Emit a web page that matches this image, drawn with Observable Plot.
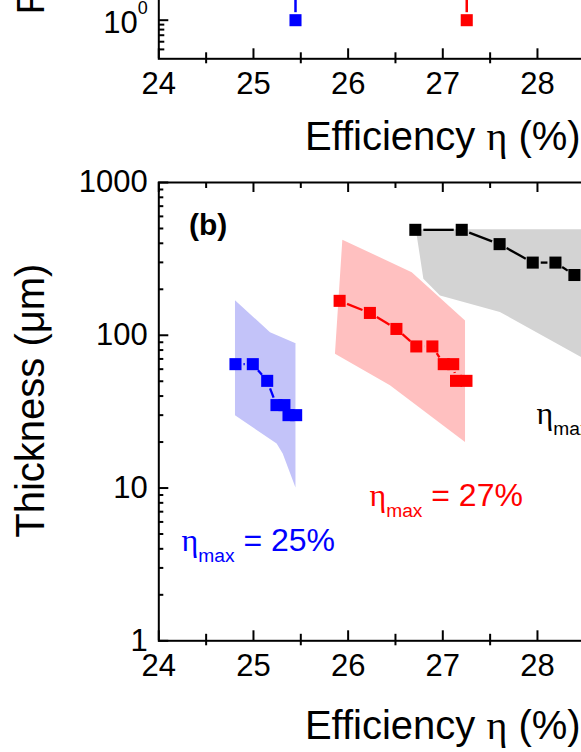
<!DOCTYPE html>
<html><head><meta charset="utf-8">
<script src="https://cdn.jsdelivr.net/npm/d3@7"></script>
<script src="https://cdn.jsdelivr.net/npm/@observablehq/plot@0.6"></script>
<style>
html,body{margin:0;padding:0;background:#fff;}
body{width:581px;height:752px;overflow:hidden;position:relative;}
#top,#bottom{position:absolute;left:0;}
#top{top:-210px;}
#bottom{top:161.7px;}
</style></head><body>
<div id="top"></div><div id="bottom"></div>
<script>
// ---------- data ----------
const xMajor = [24, 25, 26, 27, 28, 29, 30];
const xMinor = [24.5, 25.5, 26.5, 27.5, 28.5, 29.5];
const xTickLabels = ["24", "25", "26", "27", "28", "29", "30"];

// panel (a), visible bottom part only
const topYMajor = [1, 10, 100];
const topYMinor = [0.5, 0.6, 0.7, 0.8, 0.9, 2, 3, 4, 5, 6, 7, 8, 9, 20, 30, 40, 50, 60, 70, 80, 90];
const topYLabelTicks = [1];
const topYLabels = ["10^{0}"];
const topX = [25.444, 27.253];
const topY = [1, 1];
const topYUp = [10, 10];
const topColors = ["#0000ff", "#ff0000"];

// panel (b)
const yMajor = [1, 10, 100, 1000];
const yTickLabels = ["1", "10", "100", "1000"];
const yMinor = [2, 3, 4, 5, 6, 7, 8, 9, 20, 30, 40, 50, 60, 70, 80, 90, 200, 300, 400, 500, 600, 700, 800, 900];

const blueX = [24.81, 24.993, 25.145, 25.243, 25.327, 25.37, 25.451];
const blueY = [64.7, 64.7, 50.3, 34.9, 34.9, 30, 30];
const redX = [25.91, 26.23, 26.51, 26.72, 26.89, 27.01, 27.11, 27.14, 27.25];
const redY = [168, 140, 110, 84.5, 84.5, 64.7, 64.7, 50.3, 50.3];
const blackX = [26.71, 27.20, 27.60, 27.95, 28.19, 28.39];
const blackY = [490, 490, 395, 299, 299, 248];

const blueBandTopX = [24.81, 25.18, 25.444, 25.449];
const blueBandTopY = [168, 104, 88.3, 88.3];
const blueBandBotX = [24.81, 25.25, 25.314, 25.449];
const blueBandBotY = [29.7, 19.4, 16.7, 10];

const redBandTopX = [25.944, 26.677, 27.24];
const redBandTopY = [419, 257, 124];
const redBandBotX = [25.866, 26.447, 27.24];
const redBandBotY = [75.2, 46.7, 19.9];

const grayBandTopX = [26.72, 26.976, 27.608, 28.465, 29.2];
const grayBandTopY = [490, 490, 490, 490, 490];
const grayBandBotX = [26.80, 26.976, 27.608, 28.465, 29.2];
const grayBandBotY = [233, 181, 141, 71.5, 45];

const labelText = ["η_{max} = 25%", "η_{max} = 27%", "η_{max} = 29%"];
const labelX = [24.24, 26.225, 27.99];
const labelY = [3.88, 7.65, 26.2];
const labelColor = ["#0000ff", "#ff0000", "#000000"];

// ---------- helpers ----------
const SANS = "'Liberation Sans', Arial, sans-serif";
const SERIF = "'Liberation Serif', 'Times New Roman', serif";
const TICKFS = 31;
const pts = (xs, ys) => xs.map((x, i) => ({x, y: ys[i]}));
const segs = (xs, ys) => xs.slice(1).map((x, i) => ({x1: xs[i], y1: ys[i], x2: x, y2: ys[i + 1]}));
const band = (tx, ty, bx, by) => tx.map((x, i) => ({tx: x, ty: ty[i], bx: bx[i], by: by[i]}));
const svgStyle = `font-family: ${SANS}; font-size: 31px; background: transparent; max-width: none; overflow: visible;`;

function richify(svg) {
  d3.select(svg).selectAll("text").each(function () {
    const s = this.textContent;
    if (!/η|_\{|\^\{/.test(s)) return;
    const fs = parseFloat(getComputedStyle(this).fontSize);
    const parts = s.split(/(η|_\{[^}]*\}|\^\{[^}]*\})/).filter(p => p !== "");
    this.textContent = "";
    let shift = 0;
    for (const p of parts) {
      const t = d3.select(this).append("tspan");
      let ns = 0;
      if (p === "η") t.attr("font-family", SERIF).text("η");
      else if (p.startsWith("_{")) { t.attr("font-size", fs * 0.6).text(p.slice(2, -1)); ns = fs * 0.34; }
      else if (p.startsWith("^{")) { t.attr("font-size", fs * 0.58).text(p.slice(2, -1)); ns = -fs * 0.6; }
      else t.text(p);
      if (ns !== shift) t.attr("dy", ns - shift);
      shift = ns;
    }
  });
}

const W = 740, ML = 158.3, MR = 13.7, FW = W - ML - MR;
const sq = 6.8; // square symbol radius

const xLabelMark = () => Plot.text(xMajor, {x: d => d, text: d => xTickLabels[xMajor.indexOf(d)], frameAnchor: "bottom", dy: 13, lineAnchor: "top", fontSize: TICKFS});

// ---------- top panel (a) ----------
const topFH = 258.3, topMT = 10, topMB = 100;
const topSegsData = topX.map((x, i) => ({x1: x, y1: topY[i], x2: x, y2: topYUp[i], c: topColors[i]}));
const topPlot = Plot.plot({
  width: W, height: topMT + topFH + topMB,
  marginLeft: ML, marginRight: MR, marginTop: topMT, marginBottom: topMB,
  style: svgStyle,
  x: {domain: [24, 30], axis: null},
  y: {type: "log", domain: [0.4, 184], axis: null},
  marks: [
    ...topSegsData.map(d => Plot.arrow([d], {x1: "x1", y1: "y1", x2: "x2", y2: "y2", stroke: d.c, strokeWidth: 2.5, headLength: 0, insetStart: 8, strokeLinecap: "butt"})),
    ...topX.map((x, i) => Plot.dot([{x, y: topY[i]}], {x: "x", y: "y", symbol: "square", r: sq, fill: topColors[i], stroke: null})),
    Plot.tickX(xMajor, {x: d => d, insetTop: topFH - 10, strokeWidth: 2}),
    Plot.tickX(xMinor, {x: d => d, insetTop: topFH - 6, insetBottom: -5, strokeWidth: 2}),
    Plot.tickY(topYMajor, {y: d => d, insetRight: FW - 10, strokeWidth: 2}),
    Plot.tickY(topYMinor, {y: d => d, insetRight: FW - 6, strokeWidth: 2}),
    Plot.frame({stroke: "black", strokeWidth: 2}),
    xLabelMark(),
    Plot.text(topYLabelTicks, {y: d => d, text: (d, i) => topYLabels[i], frameAnchor: "left", dx: -11, dy: 2.5, textAnchor: "end", lineAnchor: "middle", fontSize: TICKFS}),
    Plot.text(["Efficiency η (%)"], {frameAnchor: "bottom", dy: 91.7, lineAnchor: "bottom", fontSize: 40}),
    Plot.text(["F"], {frameAnchor: "bottom-left", dx: -115, dy: -44.3, rotate: -90, textAnchor: "start", lineAnchor: "bottom", fontSize: 39})
  ]
});
document.getElementById("top").appendChild(topPlot);
richify(topPlot);

// ---------- bottom panel (b) ----------
const FH = 458.3, MT = 20, MB = 112;
const series = [
  {xs: blackX, ys: blackY, c: "#000000"},
  {xs: redX, ys: redY, c: "#ff0000"},
  {xs: blueX, ys: blueY, c: "#0000ff"}
];
const bands = [
  {d: band(grayBandTopX, grayBandTopY, grayBandBotX, grayBandBotY), c: "#d3d3d3"},
  {d: band(redBandTopX, redBandTopY, redBandBotX, redBandBotY), c: "#ffc0c0"},
  {d: band(blueBandTopX, blueBandTopY, blueBandBotX, blueBandBotY), c: "#c3c3f9"}
];
const bottomPlot = Plot.plot({
  width: W, height: MT + FH + MB,
  marginLeft: ML, marginRight: MR, marginTop: MT, marginBottom: MB,
  style: svgStyle,
  x: {domain: [24, 30], axis: null},
  y: {type: "log", domain: [1, 1000], axis: null},
  marks: [
    ...bands.map(b => Plot.area(b.d, {x1: "tx", y1: "ty", x2: "bx", y2: "by", fill: b.c})),
    ...series.map(s => Plot.arrow(segs(s.xs, s.ys), {x1: "x1", y1: "y1", x2: "x2", y2: "y2", stroke: s.c, strokeWidth: 2.3, headLength: 0, insetStart: 8, insetEnd: 8, strokeLinecap: "butt"})),
    ...series.map(s => Plot.dot(pts(s.xs, s.ys), {x: "x", y: "y", symbol: "square", r: sq, fill: s.c, stroke: null})),
    Plot.tickX(xMajor, {x: d => d, insetTop: FH - 10, strokeWidth: 2}),
    Plot.tickX(xMinor, {x: d => d, insetTop: FH - 6.5, insetBottom: -5, strokeWidth: 2}),
    Plot.tickX(xMajor, {x: d => d, insetBottom: FH - 10, strokeWidth: 2}),
    Plot.tickX(xMinor, {x: d => d, insetBottom: FH - 6, strokeWidth: 2}),
    Plot.tickY(yMajor, {y: d => d, insetRight: FW - 10, strokeWidth: 2}),
    Plot.tickY(yMinor, {y: d => d, insetRight: FW - 5, strokeWidth: 2}),
    Plot.frame({stroke: "black", strokeWidth: 2}),
    xLabelMark(),
    Plot.text(yMajor, {y: d => d, text: (d, i) => yTickLabels[i], frameAnchor: "left", dx: -11, textAnchor: "end", lineAnchor: "middle", fontSize: TICKFS}),
    Plot.text(["(b)"], {frameAnchor: "top-left", dx: 30.2, dy: 52.3, lineAnchor: "bottom", textAnchor: "start", fontWeight: "bold", fontSize: 30}),
    ...labelText.map((t, i) => Plot.text([t], {x: () => labelX[i], y: () => labelY[i], text: d => d, fill: labelColor[i], textAnchor: "start", lineAnchor: "bottom", fontSize: 32})),
    Plot.text(["Efficiency η (%)"], {frameAnchor: "bottom", dy: 98.3, lineAnchor: "bottom", fontSize: 40}),
    Plot.text(["Thickness (μm)"], {frameAnchor: "left", dx: -115, dy: -11, rotate: -90, textAnchor: "middle", lineAnchor: "bottom", fontSize: 40})
  ]
});
document.getElementById("bottom").appendChild(bottomPlot);
richify(bottomPlot);
</script></body></html>
